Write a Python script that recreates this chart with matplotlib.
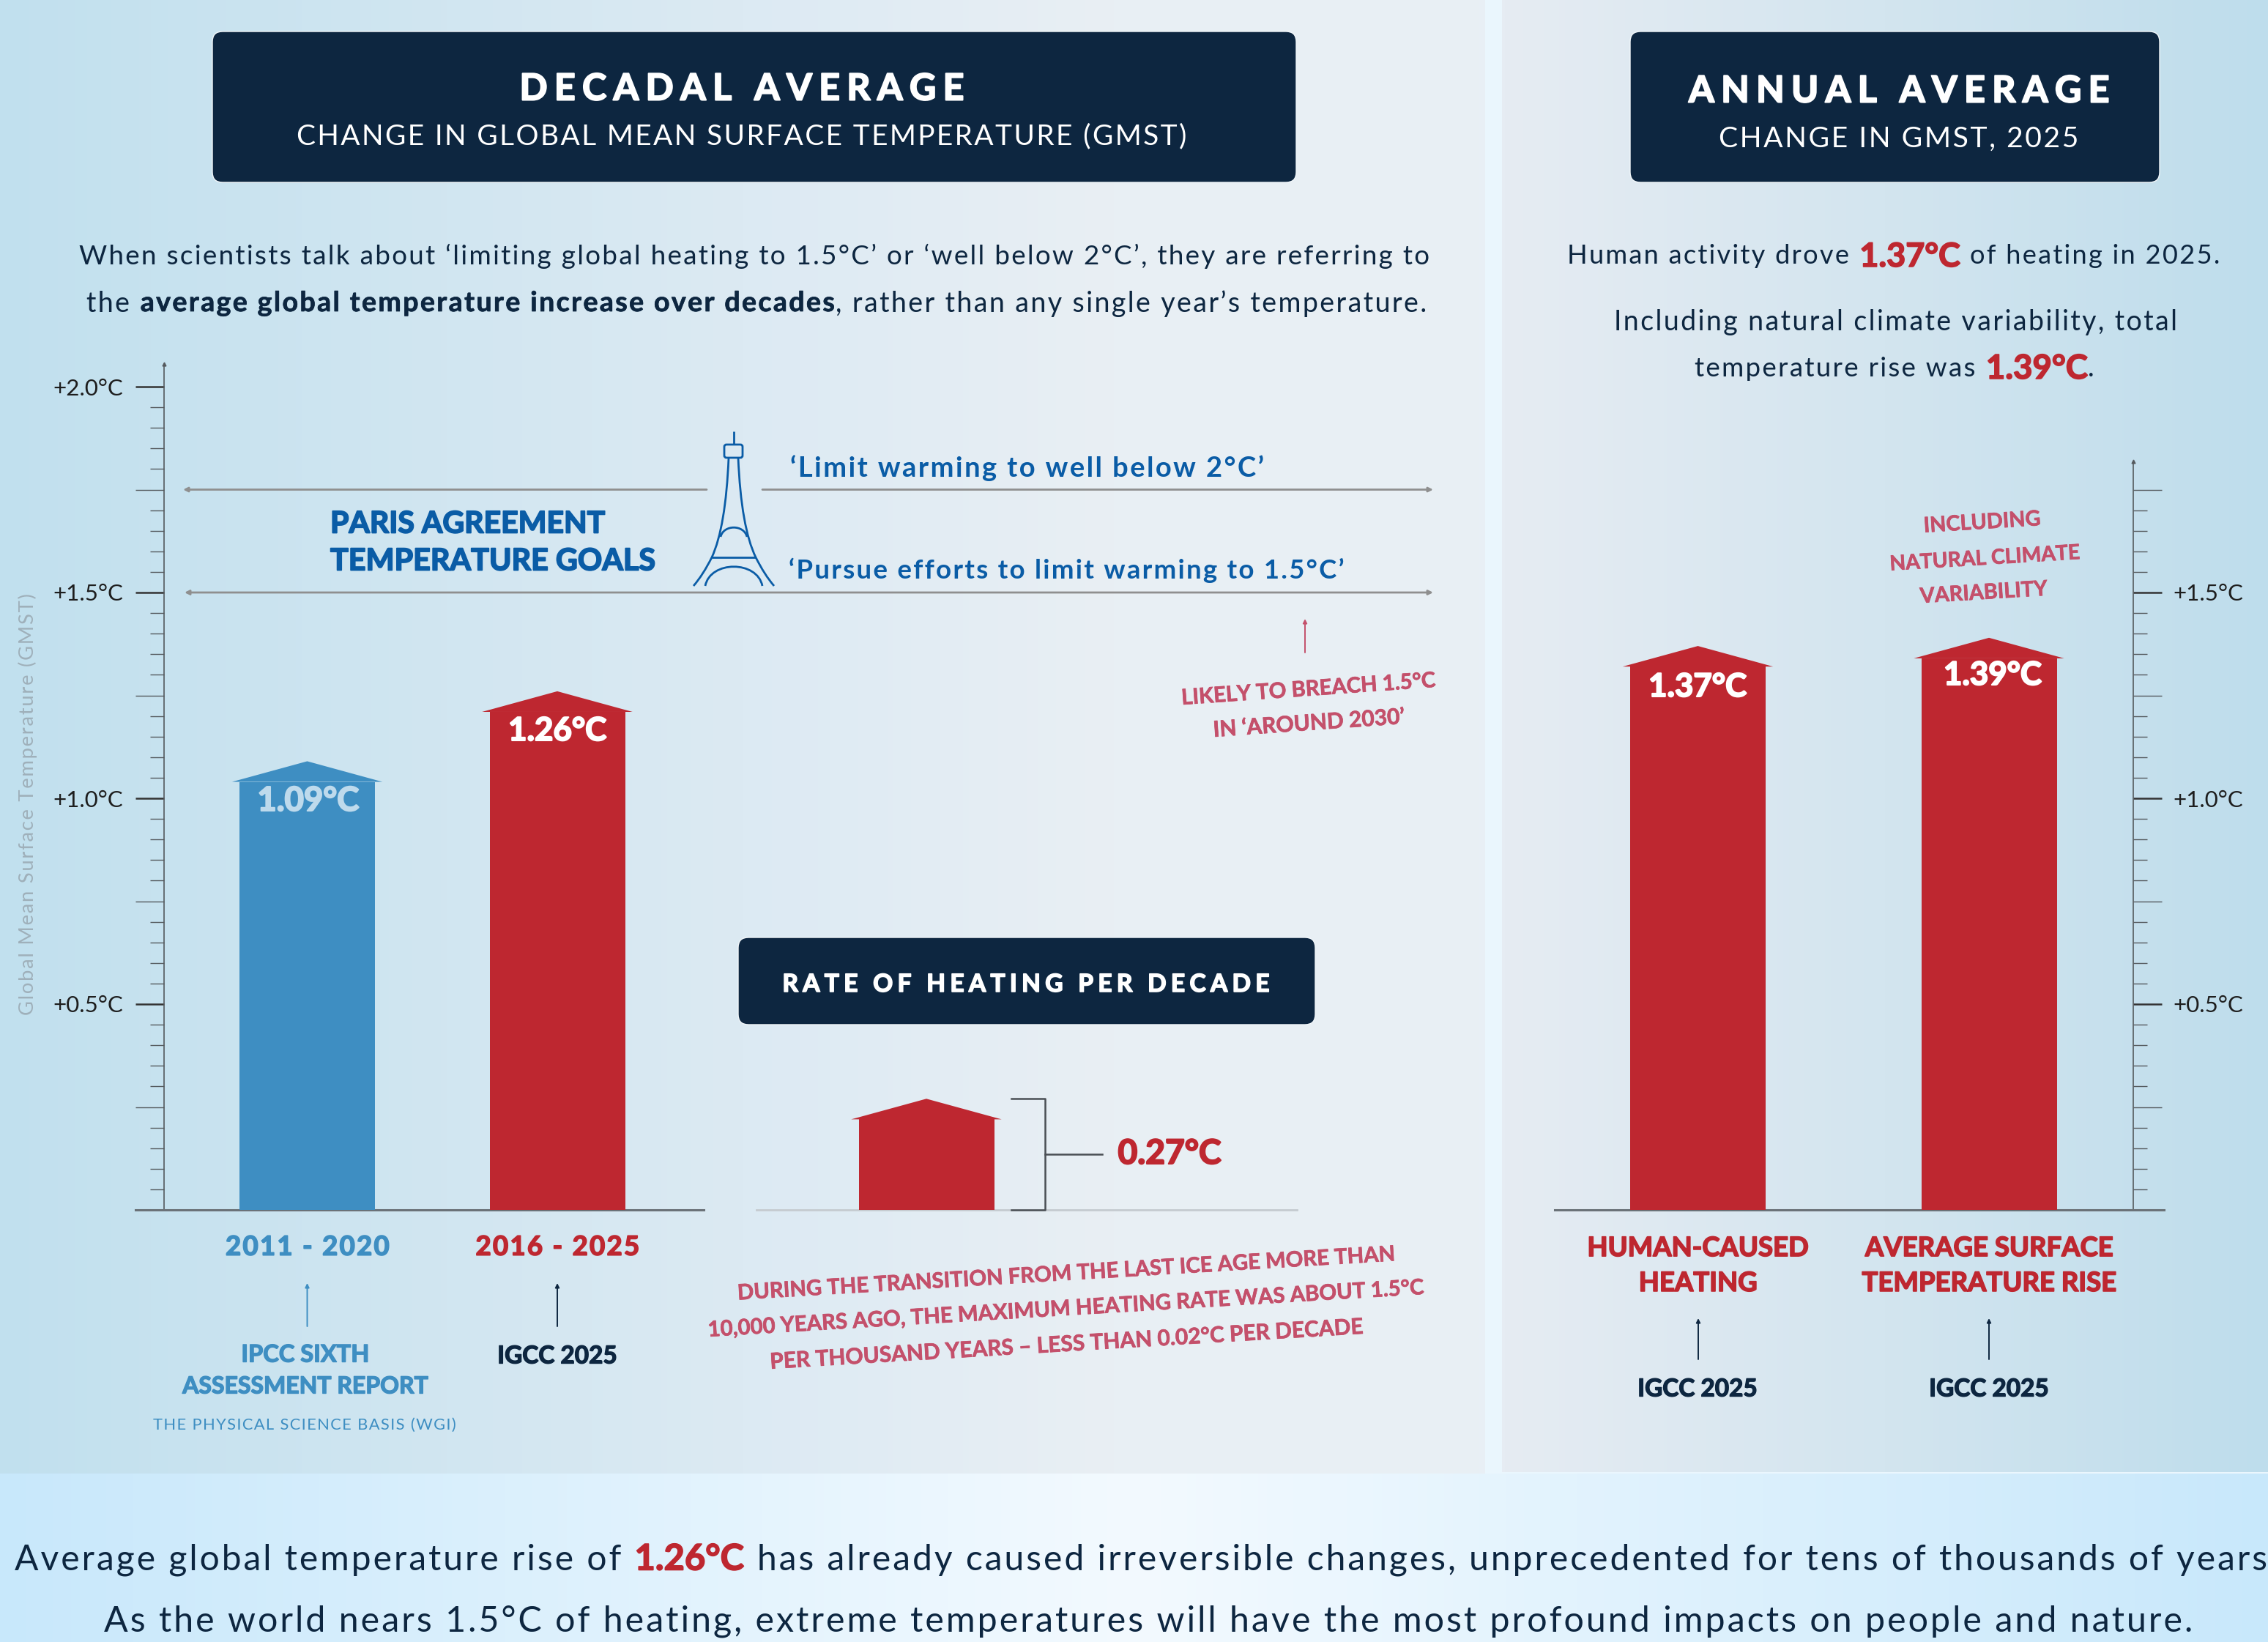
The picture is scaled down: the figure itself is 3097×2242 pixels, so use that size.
import numpy as np
import matplotlib
matplotlib.use('Agg')
import matplotlib.pyplot as plt
import matplotlib.patheffects as pe
from matplotlib.colors import LinearSegmentedColormap
from matplotlib.patches import FancyBboxPatch, PathPatch
from matplotlib.path import Path

# data
decade_labels = ['2011 - 2020', '2016 - 2025']
decade_values = [1.09, 1.26]
annual_labels = ['HUMAN-CAUSED\nHEATING', 'AVERAGE SURFACE\nTEMPERATURE RISE']
annual_values = [1.37, 1.39]
rate_value = 0.27
goal_values = [1.75, 1.5]
dec_major = [0.5, 1.0, 1.5, 2.0]
ann_major = [0.5, 1.0, 1.5]
dec_mid = [0.25, 0.75, 1.25, 1.75]
ann_mid = [0.25, 0.75, 1.25, 1.75]

W, H = 3097, 2242
Y0, PX = 1652, 562.0   # baseline row and pixels per degree

NAVY = '#0D2640'
RED = '#BE2730'
BLUE = '#3E8EC2'
GOAL = '#0A5CA6'
PINK = '#C4506B'
HEAD = ['Lato', 'DejaVu Sans']
HAIR = '\u200a'


def y_px(v):
    return Y0 - PX * v


def track(s, n=1):
    return (HAIR * n).join(s)


def grad(ax, x0, x1, y0, y1, colors):
    cm = LinearSegmentedColormap.from_list('g', colors)
    ax.imshow(np.linspace(0, 1, 256)[None, :], extent=[x0, x1, y1, y0], cmap=cm, aspect='auto', zorder=1)


def add_axes_px(x0, x1, y_top):
    return fig.add_axes([x0 / W, 1 - Y0 / H, (x1 - x0) / W, (Y0 - y_top) / H], facecolor='none', zorder=2)


def heavy(t, w=1.2):
    t.set_path_effects([pe.Stroke(linewidth=w, foreground=t.get_color()), pe.Normal()])


def fit(t, width):
    r = fig.canvas.get_renderer()
    rot = t.get_rotation()
    t.set_rotation(0)
    t.set_fontsize(t.get_fontsize() * width / t.get_window_extent(r).width)
    t.set_rotation(rot)


def txt(x, y, s, size, width, color=NAVY, weight='bold', ha='center', rot=0, n=1, stroke=0):
    t = top.text(x, y + 3, track(s, n), fontsize=size, color=color, fontweight=weight, family=HEAD, ha=ha, va='center',
                 rotation=rot, rotation_mode='anchor')
    fit(t, width)
    if stroke:
        heavy(t, stroke)
    return t


def rich(x, y, parts, size, width, ha='center', big=1.24):
    # parts are (text, color, weight) drawn one after another on a line, scaled to width
    r = fig.canvas.get_renderer()
    items = []
    for s, c, w in parts:
        red = c == RED
        t = top.text(0, y, s if red else track(s), fontsize=size * (big if red else 1), color=c, fontweight=w, family=HEAD,
                     va='center_baseline')
        if w == 'bold':
            heavy(t, 1.2 if red else 0.5)
        items.append(t)
    gaps = [0 if s[0] in ',.' else 0.38 for s, c, w in parts]
    gaps[0] = 0
    total = sum(t.get_window_extent(r).width for t in items) + sum(gaps) * size * 1.39
    k = width / total
    for t in items:
        t.set_fontsize(t.get_fontsize() * k)
    cur = x - width / 2 if ha == 'center' else x
    for t, g in zip(items, gaps):
        cur += g * size * k * 1.39
        t.set_x(cur)
        cur += t.get_window_extent(r).width


def arrow_bar(ax, x, val, w, color):
    ax.bar(x, val - 0.05, w, color=color, zorder=3)
    ax.fill([x - w * 0.555, x, x + w * 0.555], [val - 0.05, val, val - 0.05], color=color, lw=0, zorder=3)


def style_axis(ax, side, spine_x, major, mid, top_v, tick_dir):
    for s in ['top', 'left', 'right']:
        ax.spines[s].set_visible(False)
    ax.spines['bottom'].set_color('#6B7278')
    ax.spines['bottom'].set_linewidth(2.2)
    ax.spines[side].set_visible(True)
    ax.spines[side].set_position(('axes', spine_x))
    ax.spines[side].set_color('#555A5E')
    ax.spines[side].set_linewidth(1.2)
    ax.yaxis.set_ticks_position(side)
    ax.set_yticks(major)
    ax.set_yticklabels(['+%.1f°C' % v for v in major], family=HEAD, fontsize=22.5, color='#1E1E1E')
    ax.set_yticks([v for v in np.arange(0.05, top_v, 0.05).round(2) if v not in major and v not in mid], minor=True)
    ax.tick_params(axis='y', which='major', direction='out', length=28, width=1.8, color='#333333')
    ax.tick_params(axis='y', which='minor', direction='out', length=14, width=1.0, color='#555A5E')
    ax.plot([spine_x], [1], '^', transform=ax.transAxes, ms=3.5, color='#555A5E', clip_on=False)
    x1 = spine_x + tick_dir * 39 / (ax.get_position().width * W)
    ax.hlines(mid, spine_x, x1, transform=ax.get_yaxis_transform(), color='#555A5E', lw=1.0, zorder=1)


fig = plt.figure(figsize=(W / 100, H / 100), dpi=100)

# backgrounds
bg = fig.add_axes([0, 0, 1, 1], zorder=0)
bg.axis('off')
bg.add_patch(plt.Rectangle((0, 0), W, H, color='#EAF6FD', zorder=0))
grad(bg, 0, 2028, 0, 2012, [(0, '#C1E0EE'), (0.5, '#DCEAF3'), (0.75, '#E9EFF4'), (1, '#E8EFF5')])
grad(bg, 2051, W, 0, 2010, ['#E6ECF3', '#D3E5EF', '#BEDDEC'])
grad(bg, 0, W, 2012, H, ['#C8E8FB', '#F3FAFF', '#C8E8FB'])
bg.set_xlim(0, W)
bg.set_ylim(H, 0)

# decadal bars
ax_dec = add_axes_px(185, 961, 497)
ax_dec.set_xlim((185 - 419.5) / 341.5, (961 - 419.5) / 341.5)
ax_dec.set_ylim(0, (Y0 - 497) / PX)
for i, (v, c) in enumerate(zip(decade_values, [BLUE, RED])):
    arrow_bar(ax_dec, i, v, 185 / 341.5, c)
ax_dec.set_xticks([0, 1])
ax_dec.set_xticklabels([track(s) for s in decade_labels], family=HEAD, fontsize=26.3, fontweight='bold')
for lab, c in zip(ax_dec.get_xticklabels(), [BLUE, RED]):
    lab.set_color(c)
    heavy(lab)
ax_dec.tick_params(axis='x', length=0, pad=25)
style_axis(ax_dec, 'left', 39 / 776, dec_major, dec_mid, 2.0, -1)
ax_dec.tick_params(axis='y', which='major', pad=12)

# annual bars
ax_ann = add_axes_px(2123, 2955, 630)
ax_ann.set_xlim((2123 - 2318.5) / 397.5, (2955 - 2318.5) / 397.5)
ax_ann.set_ylim(0, (Y0 - 630) / PX)
for i, v in enumerate(annual_values):
    arrow_bar(ax_ann, i, v, 185 / 397.5, RED)
ax_ann.set_xticks([0, 1])
ax_ann.set_xticklabels(annual_labels, family=HEAD, fontsize=26.3, fontweight='bold', color=RED, linespacing=1.55)
for lab in ax_ann.get_xticklabels():
    heavy(lab)
ax_ann.tick_params(axis='x', length=0, pad=26)
style_axis(ax_ann, 'right', 790 / 832, ann_major, ann_mid, 1.75, 1)
ax_ann.tick_params(axis='y', which='major', pad=80)
for lab in ax_ann.get_yticklabels():
    lab.set_ha('right')

# rate bar
ax_rate = add_axes_px(1033, 1771, 1450)
ax_rate.set_xlim((1033 - 1265) / 185, (1771 - 1265) / 185)
ax_rate.set_ylim(0, (Y0 - 1450) / PX)
arrow_bar(ax_rate, 0, rate_value, 1, RED)
ax_rate.set_xticks([])
ax_rate.set_yticks([])
for s in ['top', 'left', 'right']:
    ax_rate.spines[s].set_visible(False)
ax_rate.spines['bottom'].set_color('#C5CBD0')
ax_rate.spines['bottom'].set_linewidth(2.0)

# overlay in pixel rows
top = fig.add_axes([0, 0, 1, 1], facecolor='none', zorder=5)
top.set_xlim(0, W)
top.set_ylim(H, 0)
top.axis('off')

for x0, x1, y0, y1 in [(290, 1770, 43, 249), (2226, 2949, 43, 249), (1008, 1796, 1280, 1399)]:
    top.add_patch(FancyBboxPatch((x0 + 12, y0 + 12), x1 - x0 - 24, y1 - y0 - 24, boxstyle='round,pad=12,rounding_size=14',
                                 fc=NAVY, ec='#F2F7FA', lw=1.0))

txt(1013, 119, 'DECADAL AVERAGE', 37, 608, 'white', n=3, stroke=1.5)
txt(1013, 183, 'CHANGE IN GLOBAL MEAN SURFACE TEMPERATURE (GMST)', 29, 1217, 'white', 'normal')
txt(2593, 122, 'ANNUAL AVERAGE', 37, 575, 'white', n=3, stroke=1.5)
txt(2593, 187, 'CHANGE IN GMST, 2025', 29, 488, 'white', 'normal')
txt(1402, 1341, 'RATE OF HEATING PER DECADE', 23, 667, 'white', n=3, stroke=1.2)

rich(1033, 347, [('When scientists talk about ‘limiting global heating to 1.5°C’ or ‘well below 2°C’, they are referring to', NAVY, 'normal')], 25, 1849)
rich(1031, 411, [('the', NAVY, 'normal'), ('average global temperature increase over decades', NAVY, 'bold'),
                 (', rather than any single year’s temperature.', NAVY, 'normal')], 25, 1825)
rich(2587, 347, [('Human activity drove', NAVY, 'normal'), ('1.37°C', RED, 'bold'), ('of heating in 2025.', NAVY, 'normal')], 25, 893)
rich(2587, 436, [('Including natural climate variability, total', NAVY, 'normal')], 25, 766)
rich(2587, 500, [('temperature rise was', NAVY, 'normal'), ('1.39°C', RED, 'bold'), ('.', NAVY, 'normal')], 25, 545)
rich(20, 2125, [('Average global temperature rise of', NAVY, 'normal'), ('1.26°C', RED, 'bold'),
                ('has already caused irreversible changes, unprecedented for tens of thousands of years', NAVY, 'normal')],
     35, 3072, ha='left', big=1.02)
rich(1568, 2210, [('As the world nears 1.5°C of heating, extreme temperatures will have the most profound impacts on people and nature.', NAVY, 'normal')], 35, 2852)

txt(38, 1095, 'Global Mean Surface Temperature (GMST)', 18, 577, '#9FB0BA', 'normal', rot=90)

# goal lines
arr_kw = dict(color='#8F8F8F', lw=2.0, shrinkA=0, shrinkB=0, mutation_scale=9)
top.annotate('', xy=(250, y_px(goal_values[0])), xytext=(965, y_px(goal_values[0])), arrowprops=dict(arrowstyle='-|>', **arr_kw))
top.annotate('', xy=(1957, y_px(goal_values[0])), xytext=(1041, y_px(goal_values[0])), arrowprops=dict(arrowstyle='-|>', **arr_kw))
top.annotate('', xy=(1957, y_px(goal_values[1])), xytext=(252, y_px(goal_values[1])), arrowprops=dict(arrowstyle='<|-|>', **arr_kw))

txt(451, 713, 'PARIS AGREEMENT', 29, 375, GOAL, ha='left', n=0, stroke=1.3)
txt(451, 764, 'TEMPERATURE GOALS', 29, 444, GOAL, ha='left', n=0, stroke=1.3)
txt(1079, 636, '‘Limit warming to well below 2°C’', 25, 646, GOAL, ha='left')
txt(1077, 776, '‘Pursue efforts to limit warming to 1.5°C’', 25, 758, GOAL, ha='left')

# tower
tower = [
    ([(1002, 589), (1002, 607)], [Path.MOVETO, Path.LINETO]),
    ([(995, 625), (991, 720), (972, 761), (960, 785), (947, 800)], [Path.MOVETO, Path.CURVE3, Path.CURVE3, Path.CURVE3, Path.CURVE3]),
    ([(1008, 625), (1012, 720), (1032, 761), (1044, 785), (1057, 800)], [Path.MOVETO, Path.CURVE3, Path.CURVE3, Path.CURVE3, Path.CURVE3]),
    ([(972, 761), (1032, 761)], [Path.MOVETO, Path.LINETO]),
    ([(963, 800), (970, 765), (1034, 765), (1041, 800)], [Path.MOVETO, Path.CURVE4, Path.CURVE4, Path.CURVE4]),
    ([(984, 733), (988, 716), (1016, 716), (1020, 733)], [Path.MOVETO, Path.CURVE4, Path.CURVE4, Path.CURVE4]),
]
for v, c in tower:
    top.add_patch(PathPatch(Path(v, c), fc='none', ec=GOAL, lw=2.0))
top.add_patch(FancyBboxPatch((991, 609), 21, 14, boxstyle='round,pad=2,rounding_size=3', fc='none', ec=GOAL, lw=2.0))

# source arrows
for x, y0, y1, c in [(419.5, 1811, 1752, BLUE), (761, 1811, 1752, NAVY), (2319, 1856, 1800, NAVY), (2716, 1856, 1800, NAVY),
                     (1782, 891, 845, PINK)]:
    top.annotate('', xy=(x, y1), xytext=(x, y0), arrowprops=dict(arrowstyle='-|>', color=c, lw=1.4, shrinkA=0, shrinkB=0, mutation_scale=8))

txt(417, 1847, 'IPCC SIXTH', 22.5, 175, BLUE, n=0, stroke=1.0)
txt(417, 1890, 'ASSESSMENT REPORT', 22.5, 336, BLUE, n=0, stroke=1.0)
txt(416, 1943, 'THE PHYSICAL SCIENCE BASIS (WGI)', 17, 415, BLUE, 'normal')
txt(761, 1849, 'IGCC 2025', 22, 163, NAVY, n=0, stroke=1.0)
txt(2318, 1894, 'IGCC 2025', 22, 163, NAVY, n=0, stroke=1.0)
txt(2716, 1894, 'IGCC 2025', 22, 163, NAVY, n=0, stroke=1.0)

# value labels on bars
txt(421, 1091, '%.2f°C' % decade_values[0], 28, 139, '#BEDAEC', n=0, stroke=1.5)
txt(761, 995, '%.2f°C' % decade_values[1], 28, 134, 'white', n=0, stroke=1.5)
txt(2318, 935, '%.2f°C' % annual_values[0], 28, 134, 'white', n=0, stroke=1.5)
txt(2721, 919, '%.2f°C' % annual_values[1], 28, 134, 'white', n=0, stroke=1.5)

# bracket for the rate
top.plot([1381, 1427, 1427, 1381], [y_px(rate_value), y_px(rate_value), Y0, Y0], color='#4A4F54', lw=1.8)
top.plot([1427, 1505], [y_px(rate_value / 2), y_px(rate_value / 2)], color='#4A4F54', lw=1.8)
txt(1597, 1573, '%.2f°C' % rate_value, 28, 141, RED, n=0, stroke=1.5)

# tilted notes
txt(1787, 939, 'LIKELY TO BREACH 1.5°C', 20, 348, PINK, rot=4, n=0, stroke=0.5)
txt(1787, 985, 'IN ‘AROUND 2030’', 20, 262, PINK, rot=4, n=0, stroke=0.5)
txt(2707, 711, 'INCLUDING', 20, 160, PINK, rot=3.5, n=0, stroke=0.5)
txt(2710, 760, 'NATURAL CLIMATE', 20, 260, PINK, rot=3.5, n=0, stroke=0.5)
txt(2709, 807, 'VARIABILITY', 20, 174, PINK, rot=3.5, n=0, stroke=0.5)
txt(1456, 1737, 'DURING THE TRANSITION FROM THE LAST ICE AGE MORE THAN', 20, 899, PINK, rot=3.4, n=0, stroke=0.5)
txt(1455, 1785, '10,000 YEARS AGO, THE MAXIMUM HEATING RATE WAS ABOUT 1.5°C', 20, 980, PINK, rot=3.4, n=0, stroke=0.5)
txt(1455, 1833, 'PER THOUSAND YEARS – LESS THAN 0.02°C PER DECADE', 20, 812, PINK, rot=3.4, n=0, stroke=0.5)

fig.savefig('out.png', dpi=100)
